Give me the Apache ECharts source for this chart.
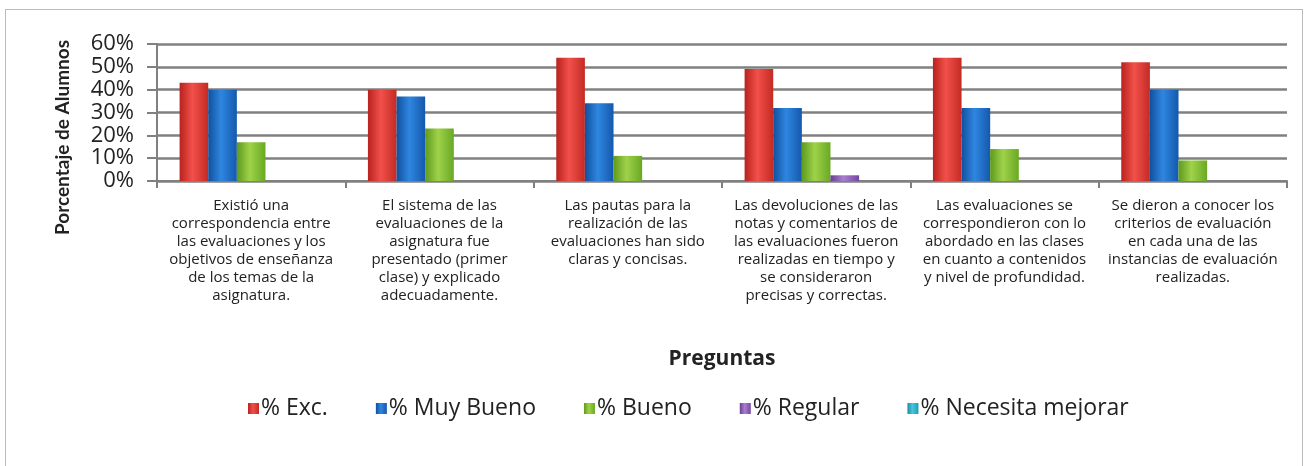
<!DOCTYPE html>
<html>
<head>
<meta charset="utf-8">
<script src="https://cdn.jsdelivr.net/npm/echarts@6/dist/echarts.min.js"></script>
<style>
  html, body { margin: 0; padding: 0; background: #fff; }
  #chart { width: 1304px; height: 466px; }
  .frame { position: absolute; left: 5px; top: 9px; width: 1296px; height: 470px; border: 1px solid #bbb; pointer-events: none; }
</style>
</head>
<body>
<div id="chart"></div>
<div class="frame"></div>
<script>
const categories = [
  'Existió una\ncorrespondencia entre\nlas evaluaciones y los\nobjetivos de enseñanza\nde los temas de la\nasignatura.',
  'El sistema de las\nevaluaciones de la\nasignatura fue\npresentado (primer\nclase) y explicado\nadecuadamente.',
  'Las pautas para la\nrealización de las\nevaluaciones han sido\nclaras y concisas.',
  'Las devoluciones de las\nnotas y comentarios de\nlas evaluaciones fueron\nrealizadas en tiempo y\nse consideraron\nprecisas y correctas.',
  'Las evaluaciones se\ncorrespondieron con lo\nabordado en las clases\nen cuanto a contenidos\ny nivel de profundidad.',
  'Se dieron a conocer los\ncriterios de evaluación\nen cada una de las\ninstancias de evaluación\nrealizadas.'
];
const seriesNames = ['% Exc.', '% Muy Bueno', '% Bueno', '% Regular', '% Necesita mejorar'];
const excelente = [43, 40, 54, 49, 54, 52];
const muyBueno = [40, 37, 34, 32, 32, 40];
const bueno = [17, 23, 11, 17, 14, 9];
const regular = [0, 0, 0, 2.5, 0, 0];
const necesitaMejorar = [0, 0, 0, 0, 0, 0];
const yTicks = [0, 10, 20, 30, 40, 50, 60];

const seriesData = [excelente, muyBueno, bueno, regular, necesitaMejorar];
const palette = [
  ['#b8221e', '#f2504a', '#c42a24'],
  ['#10509e', '#2f86e0', '#1459ad'],
  ['#5e9a1c', '#9fd24a', '#6aa823'],
  ['#6a3f92', '#a77fd0', '#74479e'],
  ['#1a8ea6', '#48c4dc', '#1f9bb4']
];

function grad(c) {
  return new echarts.graphic.LinearGradient(0, 0, 1, 0, [
    { offset: 0, color: c[0] },
    { offset: 0.45, color: c[1] },
    { offset: 1, color: c[2] }
  ]);
}

const chart = echarts.init(document.getElementById('chart'));
chart.setOption({
  animation: false,
  textStyle: { fontFamily: '"Open Sans", sans-serif' },
  grid: { left: 157, right: 17, top: 44, bottom: 285, containLabel: false },
  legend: {
    bottom: 41,
    left: 243,
    itemWidth: 11,
    itemHeight: 11,
    itemGap: 48,
    icon: 'rect',
    textStyle: { fontSize: 23, color: '#222', padding: [0, 0, 0, -3] },
    data: seriesNames.map((n, i) => ({ name: n, itemStyle: { color: grad(palette[i]) } }))
  },
  xAxis: {
    type: 'category',
    data: categories,
    name: 'Preguntas',
    nameLocation: 'middle',
    nameGap: 168,
    nameTextStyle: { fontSize: 21, fontWeight: 'bold', color: '#222' },
    axisLine: { lineStyle: { color: '#808080', width: 2 } },
    axisTick: { show: true, length: 7, lineStyle: { color: '#808080', width: 2 } },
    axisLabel: { interval: 0, margin: 16, fontSize: 15, lineHeight: 18, color: '#222', align: 'center' }
  },
  yAxis: {
    type: 'value',
    min: 0,
    max: 60,
    interval: 10,
    name: 'Porcentaje de Alumnos',
    nameLocation: 'middle',
    nameGap: 85,
    nameTextStyle: { fontSize: 19, fontWeight: 'bold', color: '#222', fontFamily: 'Lato, sans-serif', padding: [0, 50, 0, 0] },
    axisLine: { show: true, lineStyle: { color: '#808080', width: 2 } },
    axisTick: { show: true, length: 10, lineStyle: { color: '#808080', width: 2 } },
    axisLabel: { fontSize: 22, margin: 23, color: '#222',
      formatter: v => yTicks.includes(v) ? v + '%' : '' },
    splitLine: { lineStyle: { color: '#808080', width: 2.5 } }
  },
  series: seriesData.map((d, i) => ({
    name: seriesNames[i],
    type: 'bar',
    data: d,
    barGap: '0%',
    barCategoryGap: '24%',
    itemStyle: { color: grad(palette[i]) }
  }))
});
</script>
</body>
</html>
